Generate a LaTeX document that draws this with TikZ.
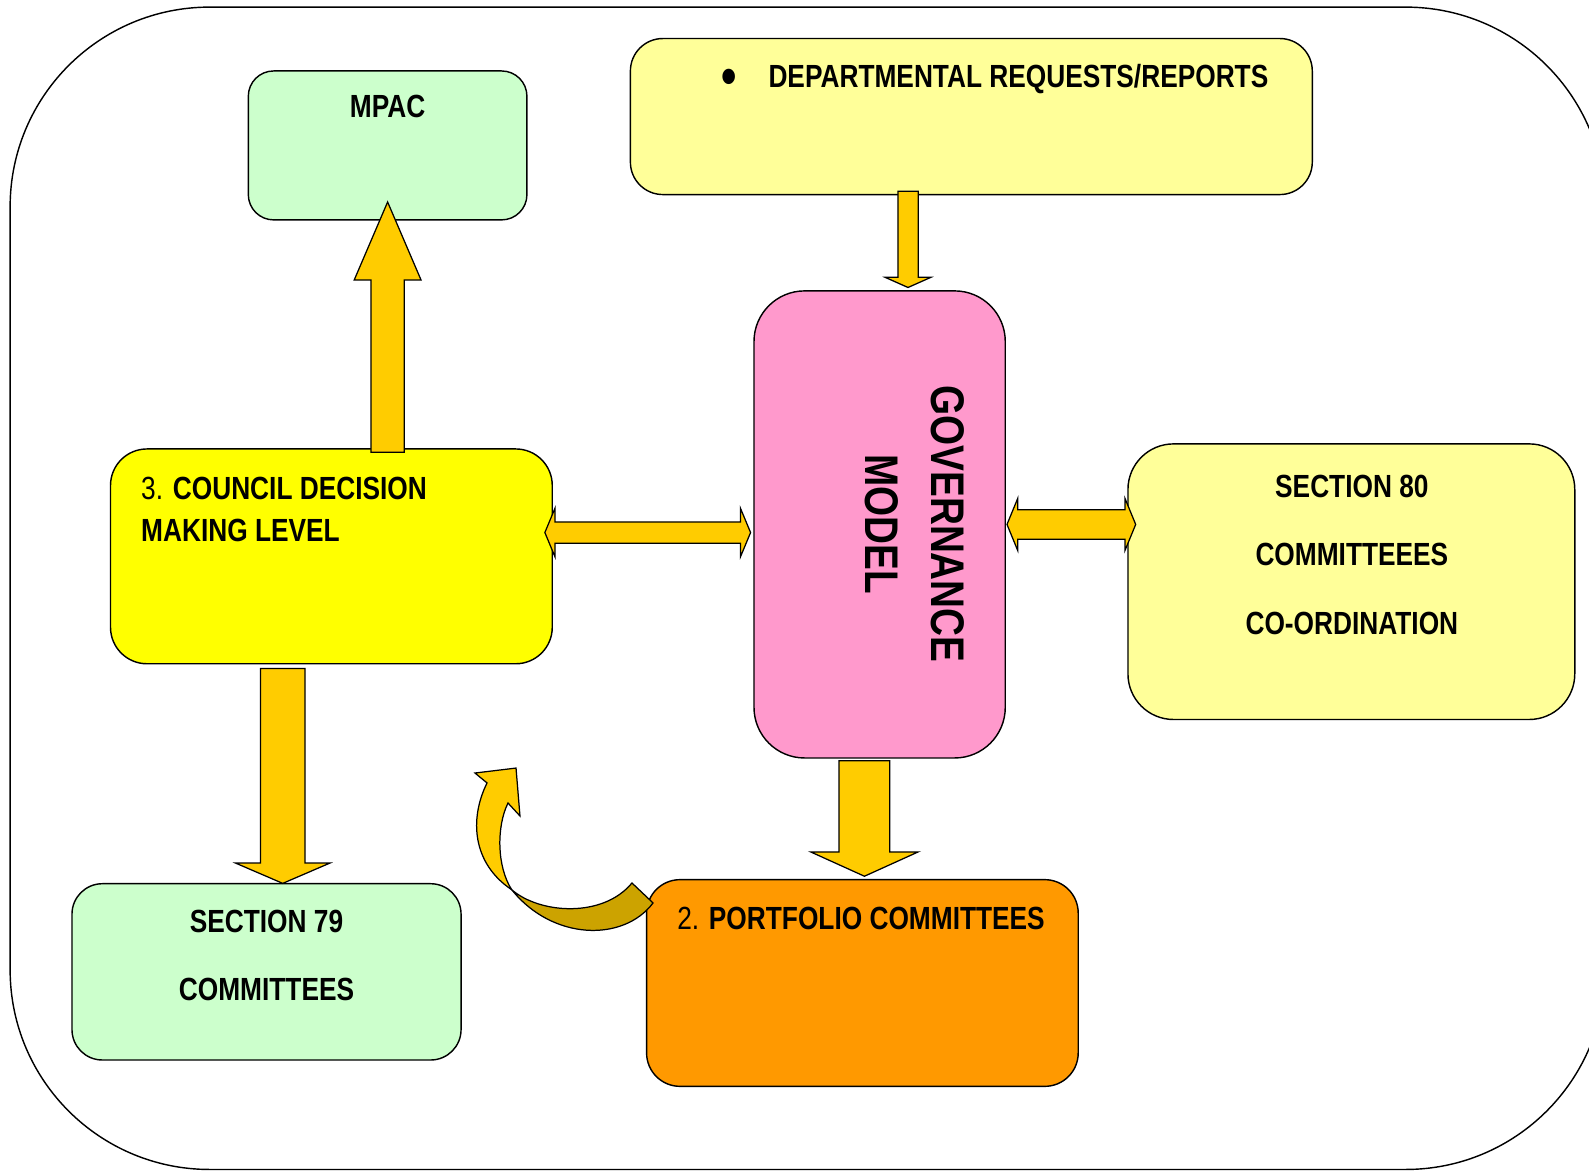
\documentclass[tikz,border=0pt]{standalone}
\usepackage{fontspec}
\setmainfont{Liberation Sans}[FakeStretch=0.82]
\usepackage{tikz}
\usetikzlibrary{calc,positioning}

\definecolor{mint}{HTML}{CCFFCC}
\definecolor{paleyel}{HTML}{FFFF99}
\definecolor{brightyel}{HTML}{FFFF00}
\definecolor{rose}{HTML}{FF99CC}
\definecolor{tangerine}{HTML}{FF9900}
\definecolor{gold}{HTML}{FFCC00}
\definecolor{darkgold}{HTML}{CCA300}

% block arrow: start, angle, length, shaft half width, head half width, head length
\newcommand\fatarrow[6]{%
  \filldraw[fat, shift={(#1)}, rotate=#2]
    (0,-#4) -- (#3-#6,-#4) -- (#3-#6,-#5) -- (#3,0) -- (#3-#6,#5) -- (#3-#6,#4) -- (0,#4) -- cycle;}
% same with a head at both ends
\newcommand\fatboth[6]{%
  \filldraw[fat, shift={(#1)}, rotate=#2]
    (0,0) -- (#6,-#5) -- (#6,-#4) -- (#3-#6,-#4) -- (#3-#6,-#5) -- (#3,0)
    -- (#3-#6,#5) -- (#3-#6,#4) -- (#6,#4) -- (#6,#5) -- cycle;}

\begin{document}
\begin{tikzpicture}[
    x=0.02cm, y=-0.02cm,
    box/.style={draw, line width=0.8pt, inner sep=0pt},
    lbl/.style={font=\fontsize{18}{23.3}\selectfont\bfseries, inner sep=0pt},
    seclbl/.style={lbl, align=center, font=\fontsize{18}{38.4}\selectfont\bfseries},
    govlbl/.style={lbl, align=center, font=\fontsize{26.5}{37}\selectfont\bfseries},
    fat/.style={draw, fill=gold, line width=0.7pt, line join=miter}
  ]
  \useasboundingbox (0,0) rectangle (1568,1156);
  \clip (0,0) rectangle (1568,1156);
  \draw[line width=0.8pt, rounded corners=3.94cm] (10,7) rectangle (1584,1154);

  \node[box, fill=mint, rounded corners=0.5cm, minimum width=5.5cm, minimum height=2.94cm] (mpac) at (382.5,143.5) {};
  \node[box, fill=paleyel, rounded corners=0.64cm, minimum width=13.46cm, minimum height=3.08cm] (dept) at (958.5,115) {};
  \node[box, fill=rose, rounded corners=1cm, minimum width=4.96cm, minimum height=9.22cm] (gov) at (868,517.5) {};
  \node[box, fill=paleyel, rounded corners=0.9cm, minimum width=8.82cm, minimum height=5.44cm] (sec80) at (1333.5,574) {};
  \node[box, fill=brightyel, rounded corners=0.72cm, minimum width=8.72cm, minimum height=4.24cm] (council) at (327,549) {};
  \node[box, fill=mint, rounded corners=0.6cm, minimum width=7.68cm, minimum height=3.48cm] (sec79) at (263,959) {};
  \node[box, fill=tangerine, rounded corners=0.66cm, minimum width=8.52cm, minimum height=4.08cm] (portf) at (851,970) {};

  \node[lbl, anchor=base] (mpactxt) at (382.5,116.3) {MPAC};
  \node[lbl, anchor=base west] (depttxt) at (712,86.3) {\makebox[0.92cm][l]{\raisebox{-4pt}{\fontsize{30}{30}\selectfont •}}DEPARTMENTAL REQUESTS/REPORTS};
  \node[govlbl, rotate=-90] (govtxt) at (902.5,517) {GOVERNANCE\\MODEL};
  \node[seclbl] (sec80txt) at (1334,547.5) {SECTION 80\\COMMITTEEES\\CO-ORDINATION};
  \node[lbl, align=left, anchor=west, font=\fontsize{18}{23.3}\selectfont\bfseries] (counciltxt) at (139,502.5) {{\mdseries 3.} COUNCIL DECISION\\MAKING LEVEL};
  \node[seclbl] (sec79txt) at (263,943) {SECTION 79\\COMMITTEES};
  \node[lbl, anchor=base west] (portftxt) at (668,917.3) {{\mdseries 2.} PORTFOLIO COMMITTEES};

  \fatarrow{$(council.north -| mpac.south)+(0,4)$}{90}{247}{16.5}{33}{77}
  \fatarrow{$(dept.south -| gov.north)+(28,-4)$}{-90}{95}{10}{22.5}{10}
  \fatboth{$(council.east)+(-8,-23.5)$}{0}{203}{10.5}{24}{10}
  \fatboth{$(gov.east)+(1,0)$}{0}{127}{14.5}{25.5}{10.5}
  \fatarrow{$(council.south)+(-48,4)$}{-90}{212}{22}{46.5}{20}
  \fatarrow{$(gov.south)+(-15,2)$}{-90}{114}{25}{53}{24}

  \filldraw[fat, fill=darkgold] (505,878) .. controls (533,902) and (595,906) .. (623.6,871.3)
    -- (644.4,891) .. controls (615,930) and (545,928) .. (505,878) -- cycle;
  \filldraw[fat] (480.6,772.6) .. controls (463,808) and (466,852) .. (505,878)
    .. controls (490,855) and (490,815) .. (501.3,792.4) -- (513.1,805.2)
    -- (509.2,757.9) -- (468.7,762.8) -- cycle;
\end{tikzpicture}
\end{document}
